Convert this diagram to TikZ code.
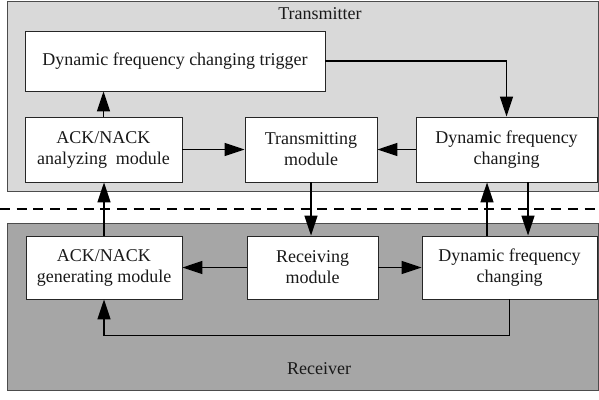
\documentclass[tikz,border=0pt]{standalone}
\usepackage{fontspec}
\setmainfont{Liberation Serif}
\usetikzlibrary{arrows.meta}

\begin{document}
\begin{tikzpicture}[x=1pt, y=-1pt,
		block/.style={draw=black!85, fill=white, line width=0.9pt, align=center, inner sep=0pt,
			font=\fontsize{18}{21}\selectfont, text=black!90},
		flow/.style={line width=1.3pt, -{Triangle[length=20pt, width=13pt]}}]
		\def\lightGray{black!15} % Transmitter fill
		\def\darkGray{black!35} % Receiver fill
		
		\useasboundingbox (0,0) rectangle (599,399);
		
		% Draw the two regions
		\draw[fill=\lightGray, draw=black!70, line width=0.9pt] (7,1) rectangle (598,191);
		\draw[fill=\darkGray, draw=black!70, line width=0.9pt] (7,223) rectangle (598,390);
		\node[font=\fontsize{18}{21}\selectfont, text=black!90] (txLabel) at (320,14) {Transmitter};
		\node[font=\fontsize{18}{21}\selectfont, text=black!90] (rxLabel) at (319,369) {Receiver};
		
		% Dashed separation line
		\draw[line width=1.3pt, dash pattern=on 10pt off 6.7pt] (0,209) -- (599,209);
		
		% Transmitter blocks
		\node[block, minimum width=300pt, minimum height=60pt] (trigger) at (175,61) {Dynamic frequency changing trigger};
		\node[block, minimum width=157pt, minimum height=65pt] (analyze) at (103.5,149.5) {ACK/NACK\\analyzing\ \ module};
		\node[block, minimum width=132pt, minimum height=65pt] (transmit) at (311,149.5) {Transmitting\\module};
		\node[block, minimum width=181pt, minimum height=65pt] (dfcTx) at (506.5,149.5) {Dynamic frequency\\changing};
		
		% Receiver blocks
		\node[block, minimum width=156pt, minimum height=63pt] (generate) at (104,267.5) {ACK/NACK\\generating module};
		\node[block, minimum width=131pt, minimum height=63pt] (receive) at (312.5,267.5) {Receiving\\module};
		\node[block, minimum width=175pt, minimum height=63pt] (dfcRx) at (509.5,267.5) {Dynamic frequency\\changing};
		
		% Connectors
		\draw[flow] (trigger.east) -| (dfcTx.north);
		\draw[flow] (analyze.north) -- (analyze.north |- trigger.south);
		\draw[flow] (analyze.east) -- (transmit.west);
		\draw[flow] (dfcTx.west) -- (transmit.east);
		\draw[flow] (transmit.south) -- (transmit.south |- receive.north);
		\draw[flow] (receive.west) -- (generate.east);
		\draw[flow] (receive.east) -- (dfcRx.west);
		\draw[flow] (generate.north) -- (generate.north |- analyze.south);
		\draw[flow] ([xshift=-22.5pt]dfcRx.north) -- ([xshift=-22.5pt]dfcRx.north |- dfcTx.south);
		\draw[flow] ([xshift=18.5pt]dfcRx.north |- dfcTx.south) -- ([xshift=18.5pt]dfcRx.north);
		\draw[flow] (dfcRx.south) -- ++(0,36) -| (generate.south);
	\end{tikzpicture}
\end{document}
